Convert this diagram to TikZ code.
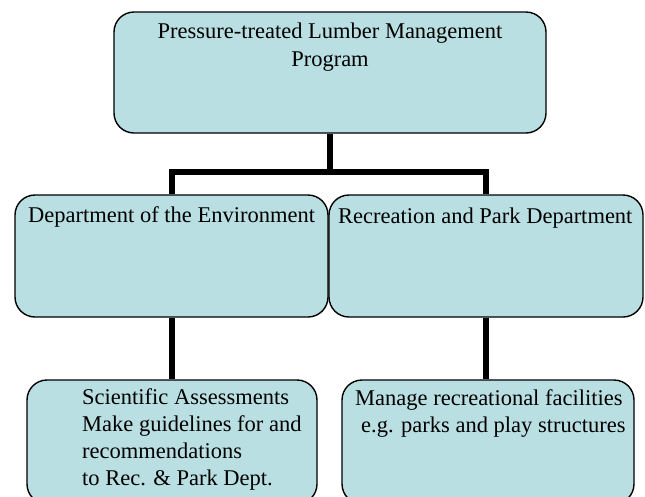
\documentclass[tikz,border=0pt]{standalone}
\usepackage{fontspec}
\setmainfont{Liberation Serif}
\definecolor{boxfill}{HTML}{B9DFE2}
\begin{document}
\begin{tikzpicture}[x=1pt,y=-1pt,
  orgbox/.style={draw=black, line width=1.4pt, fill=boxfill, rounded corners=20pt,
                 inner sep=0pt, minimum width=#1},
  conn/.style={line width=6pt, line join=miter},
  txt/.style={inner sep=0pt, font=\fontsize{22.5}{27}\selectfont}]
  \useasboundingbox (0,0) rectangle (645,496);
  \clip (0,0) rectangle (645,496);

  % boxes
  \node[orgbox=432pt, minimum height=121pt] (top)  at (330,72.5) {};
  \node[orgbox=313pt, minimum height=122pt] (midL) at (171.5,256) {};
  \node[orgbox=314pt, minimum height=122pt] (midR) at (486,256) {};
  \node[orgbox=290pt, minimum height=124pt] (botL) at (172,442) {};
  \node[orgbox=292pt, minimum height=124pt] (botR) at (488,442) {};

  % connectors
  \coordinate (bus) at (330,172);
  \draw[conn] (top.south) -- (bus);
  \draw[conn] (midL.north) |- (bus) -| (midR.north);
  \draw[conn] (midL.south) -- (midL.south |- botL.north);
  \draw[conn] (midR.south) -- (midR.south |- botR.north);

  % labels
  \node[txt, anchor=base] (topA) at (330,38) {Pressure-treated Lumber Management};
  \node[txt, anchor=base] (topB) at (330,66) {Program};
  \node[txt, anchor=base west] (midLa) at (28,222) {Department of the Environment};
  \node[txt, anchor=base west] (midRa) at (338,223) {Recreation and Park Department};
  \node[txt, anchor=base west] (botLa) at (82,404) {Scientific Assessments};
  \node[txt, anchor=base west] (botLb) at (82,431) {Make guidelines for and};
  \node[txt, anchor=base west] (botLc) at (82,458) {recommendations};
  \node[txt, anchor=base west] (botLd) at (82,485) {to Rec. \& Park Dept.};
  \node[txt, anchor=base west] (botRa) at (355,405) {Manage recreational facilities};
  \node[txt, anchor=base west] (botRb) at (361,432) {e.g. parks and play structures};
\end{tikzpicture}
\end{document}
